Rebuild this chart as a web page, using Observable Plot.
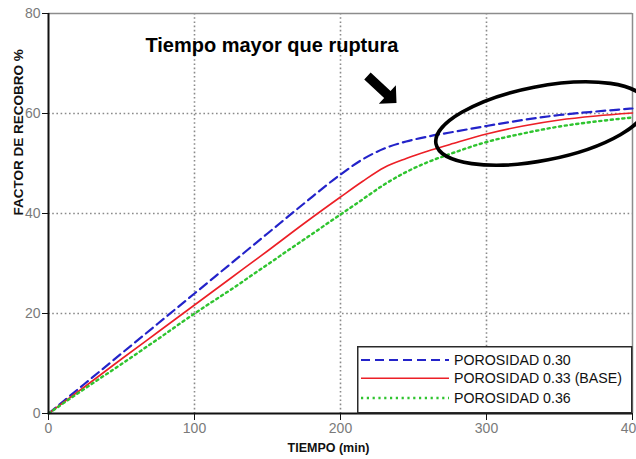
<!DOCTYPE html>
<html>
<head>
<meta charset="utf-8">
<script src="https://cdn.jsdelivr.net/npm/d3@7"></script>
<script src="https://cdn.jsdelivr.net/npm/@observablehq/plot@0.6"></script>
<style>
  body { margin: 0; background: #fff; }
  #chart { position: relative; width: 636px; height: 459px; overflow: hidden; background: #fff; }
  #legend { position: absolute; left: 357px; top: 346px; }
</style>
</head>
<body>
<div id="chart"></div>
<script>
// Recovery factor (%) versus time (min) for three porosity cases
const tiempo       = [0, 25, 50, 75, 100, 125, 150, 175, 200, 215, 230, 245, 260, 275, 300, 325, 350, 375, 400];
const porosidad030 = [0, 6.0, 12.0, 18.0, 24.0, 30.0, 36.0, 42.0, 47.8, 50.8, 53.0, 54.4, 55.4, 56.2, 57.5, 58.7, 59.7, 60.4, 61.0];
const porosidad033 = [0, 5.4, 10.9, 16.3, 21.7, 27.1, 32.5, 38.0, 43.3, 46.4, 49.2, 51.0, 52.5, 53.8, 55.9, 57.5, 58.7, 59.5, 60.1];
const porosidad036 = [0, 5.0, 9.9, 14.9, 20.0, 24.8, 29.8, 34.8, 39.8, 42.8, 45.8, 48.3, 50.3, 51.9, 54.3, 56.0, 57.4, 58.4, 59.2];

const seriesNames = ["POROSIDAD 0.30", "POROSIDAD 0.33 (BASE)", "POROSIDAD 0.36"];
const seriesValues = [porosidad030, porosidad033, porosidad036];

const xTicks = [0, 100, 200, 300, 400];
const yTicks = [0, 20, 40, 60, 80];
const xGrid = [100, 200, 300];
const yGrid = [20, 40, 60];

const xLabel = "TIEMPO (min)";
const yLabel = "FACTOR DE RECOBRO %";

// Annotation: note, arrow (tail -> tip) and the ellipse around the late-time curves
const noteText = "Tiempo mayor que ruptura";
const notePos = [153, 73.6];
const arrowTail = [218.8, 67.4];
const arrowTip = [238.7, 62.0];
const ellipseCenter = [337.7, 57.9];
const ellipseRadii = [73.3, 7.4];   // in x and y data units
const ellipseTilt = -11;            // degrees

// Line styles per series
const styles = [
  {stroke: "#2323c9", strokeWidth: 2.2, strokeDasharray: "9,5"},
  {stroke: "#ec1f26", strokeWidth: 1.6, strokeDasharray: null},
  {stroke: "#2fc42f", strokeWidth: 2.4, strokeDasharray: "2.2,3.6"}
];

const rows = seriesNames.map((name, i) =>
  tiempo.map((t, j) => ({serie: name, t, v: seriesValues[i][j]}))
);

const font = "'Liberation Sans', Arial, Helvetica, sans-serif";
const narrow = "'Liberation Sans Narrow', 'Arial Narrow', 'Liberation Sans', Arial, sans-serif";

function ellipseMark(index, {x, y}) {
  const cx = x(ellipseCenter[0]), cy = y(ellipseCenter[1]);
  const rx = Math.abs(x(ellipseCenter[0] + ellipseRadii[0]) - cx);
  const ry = Math.abs(y(ellipseCenter[1] + ellipseRadii[1]) - cy);
  return d3.create("svg:ellipse")
    .attr("cx", 0).attr("cy", 0).attr("rx", rx).attr("ry", ry)
    .attr("transform", `translate(${cx},${cy}) rotate(${ellipseTilt})`)
    .attr("fill", "none").attr("stroke", "#000").attr("stroke-width", 3.6)
    .node();
}

function arrowMark(index, {x, y}) {
  const x0 = x(arrowTail[0]), y0 = y(arrowTail[1]);
  const x1 = x(arrowTip[0]), y1 = y(arrowTip[1]);
  const L = Math.hypot(x1 - x0, y1 - y0);
  const ux = (x1 - x0) / L, uy = (y1 - y0) / L;
  const px = -uy, py = ux;
  const sw = 4.7, hw = 12.5, hl = 12.5;
  const bx = x1 - ux * hl, by = y1 - uy * hl;
  const pts = [
    [x0 + px * sw, y0 + py * sw],
    [bx + px * sw, by + py * sw],
    [bx + px * hw, by + py * hw],
    [x1, y1],
    [bx - px * hw, by - py * hw],
    [bx - px * sw, by - py * sw],
    [x0 - px * sw, y0 - py * sw]
  ];
  return d3.create("svg:path")
    .attr("d", "M" + pts.map(p => p.join(",")).join("L") + "Z")
    .attr("fill", "#000")
    .node();
}

const plot = Plot.plot({
  width: 636,
  height: 459,
  marginLeft: 48,
  marginRight: 4,
  marginTop: 13,
  marginBottom: 46,
  x: {domain: [0, 400]},
  y: {domain: [0, 80]},
  style: {fontFamily: font, background: "#fff", overflow: "hidden"},
  marks: [
    Plot.ruleX(xGrid, {stroke: "#8a8a8a", strokeWidth: 1.6, strokeDasharray: "1.6,2.6"}),
    Plot.ruleY(yGrid, {stroke: "#8a8a8a", strokeWidth: 1.6, strokeDasharray: "1.6,2.6"}),
    Plot.ruleY([80], {stroke: "#8c8c8c", strokeWidth: 1.5}),
    Plot.ruleX([400], {stroke: "#8c8c8c", strokeWidth: 1.5}),
    ...rows.map((data, i) => Plot.line(data, {
      x: "t", y: "v", curve: "monotone-x",
      stroke: styles[i].stroke, strokeWidth: styles[i].strokeWidth,
      strokeDasharray: styles[i].strokeDasharray
    })),
    Plot.ruleX([0], {stroke: "#111", strokeWidth: 2}),
    Plot.ruleY([0], {stroke: "#111", strokeWidth: 2}),
    Plot.axisX({ticks: xTicks, tickSize: 7, tickPadding: 3, stroke: "#111", fill: "#7a7a7a",
                fontSize: 14, fontFamily: narrow, label: null, tickFormat: d => String(d)}),
    Plot.axisY({ticks: yTicks, tickSize: 6, tickPadding: 2, stroke: "#111", fill: "#7a7a7a",
                fontSize: 14, fontFamily: narrow, label: null, tickFormat: d => String(d)}),
    Plot.text([xLabel], {frameAnchor: "bottom", dx: -12, dy: 38, text: d => d,
                         fontWeight: "bold", fontSize: 12.5, fill: "#111"}),
    Plot.text([yLabel], {frameAnchor: "left", dx: -30, dy: 2, rotate: -90, text: d => d,
                         fontWeight: "bold", fontSize: 13.5, fill: "#111"}),
    Plot.text([noteText], {x: () => notePos[0], y: () => notePos[1], text: d => d,
                           fontWeight: "bold", fontSize: 20, fill: "#000"}),
    arrowMark,
    ellipseMark
  ]
});

const chart = document.getElementById("chart");
chart.appendChild(plot);

// Legend box in the lower right corner of the plotting area
const legend = d3.select(chart).append("svg")
  .attr("id", "legend")
  .attr("width", 276).attr("height", 68);
legend.append("rect")
  .attr("x", 0.75).attr("y", 0.75).attr("width", 274).attr("height", 66)
  .attr("fill", "#fff").attr("stroke", "#2a2a2a").attr("stroke-width", 1.5);
const rowY = [14, 32.3, 52];
seriesNames.forEach((name, i) => {
  legend.append("line")
    .attr("x1", 4).attr("x2", 92).attr("y1", rowY[i]).attr("y2", rowY[i])
    .attr("stroke", styles[i].stroke).attr("stroke-width", styles[i].strokeWidth)
    .attr("stroke-dasharray", styles[i].strokeDasharray);
  legend.append("text")
    .attr("x", 97).attr("y", rowY[i]).attr("dy", "0.36em")
    .attr("font-family", font).attr("font-size", 14.2).attr("fill", "#111")
    .text(name);
});
</script>
</body>
</html>
